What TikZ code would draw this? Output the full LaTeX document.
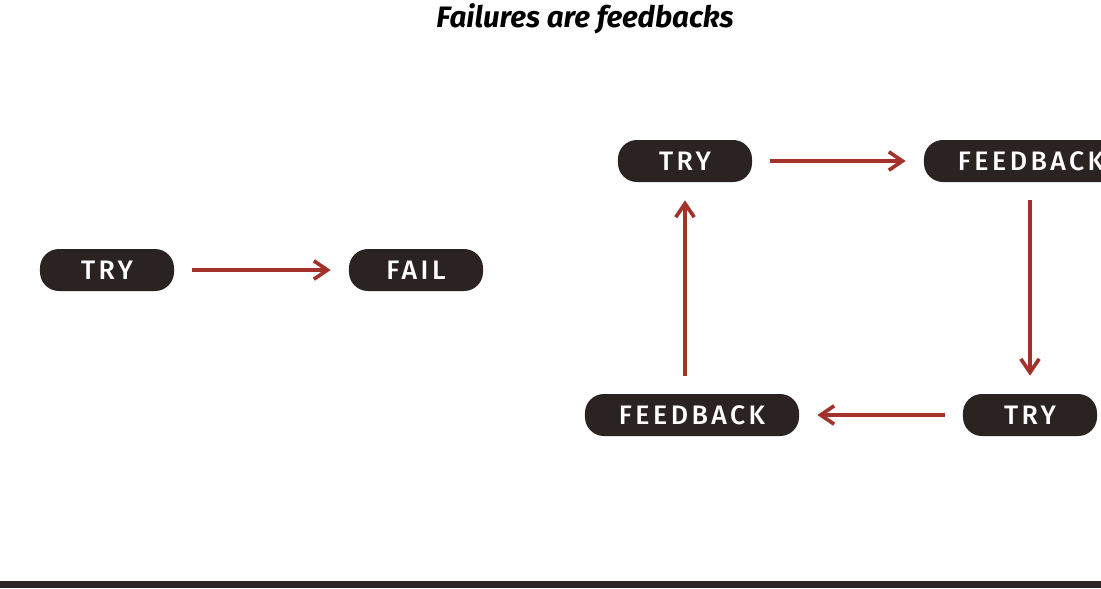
\documentclass[tikz,border=0pt]{standalone}
\usepackage{fontspec}
\setmainfont{Fira Sans}
\newfontfamily\pillfont[LetterSpace=13, UprightFont={* Medium}]{Fira Sans}
\usetikzlibrary{arrows.meta}
\definecolor{ink}{HTML}{2B2222}
\definecolor{rust}{HTML}{A3322B}
\definecolor{band}{HTML}{2E2624}
\tikzset{
  pill/.style={fill=ink, rounded corners=13.5pt, text=white, align=center,
    minimum height=1.05cm, minimum width=3.35cm, inner sep=0pt,
    font=\pillfont\fontsize{19}{22}\selectfont},
  widepill/.style={pill, minimum width=5.35cm},
  loopedge/.style={-{Straight Barb[length=3.4mm, width=4.6mm]}, line width=2.6pt,
    draw=rust, shorten <=0.45cm, shorten >=0.45cm},
  heading/.style={font=\fontsize{21}{24}\selectfont\bfseries\itshape, text=black}
}

\begin{document}
\begin{tikzpicture}[x=0.025cm,y=-0.025cm]
  \useasboundingbox (0,0) rectangle (1101,588);
  \clip (0,0) rectangle (1101,588);
  \node[heading] (title) at (585,19) {Failures are feedbacks};

  % Single attempt
  \node[pill] (tryone) at (107,270) {TRY};
  \node[pill] (fail) at (416,270) {FAIL};
  \draw[loopedge] (tryone) -- (fail);

  % Feedback loop
  \node[pill] (trytop) at (685,161) {TRY};
  \node[widepill] (fbtop) at (1031,161) {FEEDBACK};
  \node[pill] (trybot) at (1030,415) {TRY};
  \node[widepill] (fbbot) at (692,415) {FEEDBACK};
  \draw[loopedge] (trytop) -- (fbtop);
  \draw[loopedge] (fbtop.south -| trybot.north) -- (trybot.north);
  \draw[loopedge] (trybot) -- (fbbot);
  \draw[loopedge] (fbbot.north -| trytop.south) -- (trytop.south);

  % Bottom band
  \fill[band] (0,581) rectangle (1101,588);
\end{tikzpicture}
\end{document}
